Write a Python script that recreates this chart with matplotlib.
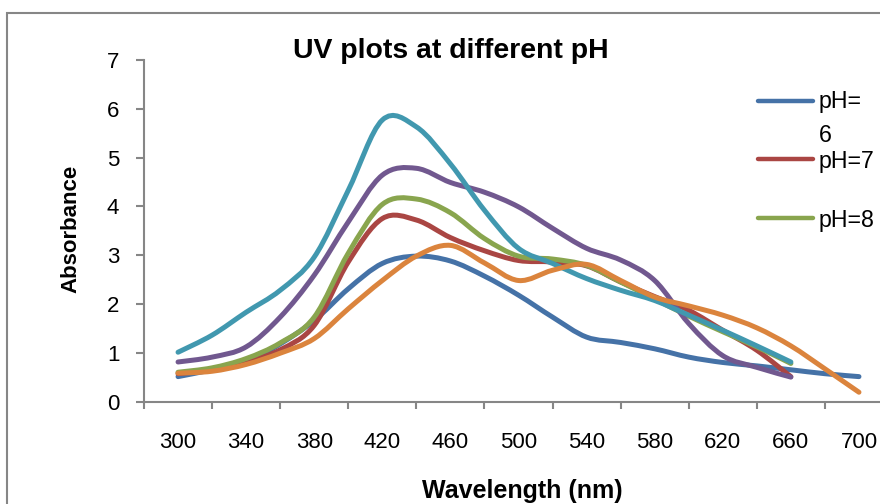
import numpy as np
import matplotlib.pyplot as plt
from matplotlib.path import Path
from matplotlib.patches import PathPatch, Rectangle
from matplotlib.lines import Line2D

# wavelength categories (nm)
wavelength = [300, 320, 340, 360, 380, 400, 420, 440, 460, 480, 500,
              520, 540, 560, 580, 600, 620, 640, 660, 680, 700]

# absorbance
ph6 = [0.51, 0.65, 0.81, 1.18, 1.66, 2.31, 2.83, 2.98, 2.88, 2.57, 2.18,
       1.73, 1.32, 1.21, 1.08, 0.91, 0.80, 0.73, 0.65, 0.57, 0.51]
ph7 = [0.57, 0.65, 0.81, 1.06, 1.56, 2.86, 3.75, 3.72, 3.36, 3.09, 2.89,
       2.86, 2.78, 2.45, 2.15, 1.87, 1.46, 1.05, 0.51]
ph8 = [0.60, 0.69, 0.88, 1.20, 1.73, 3.04, 4.04, 4.15, 3.87, 3.34, 2.98,
       2.92, 2.79, 2.45, 2.10, 1.75, 1.43, 1.12, 0.78]
ph9 = [0.81, 0.91, 1.12, 1.73, 2.59, 3.68, 4.64, 4.78, 4.49, 4.29, 3.99,
       3.55, 3.14, 2.90, 2.48, 1.60, 0.94, 0.70, 0.50]
ph10 = [1.01, 1.36, 1.83, 2.28, 2.96, 4.33, 5.77, 5.63, 4.87, 3.92, 3.14,
        2.83, 2.52, 2.28, 2.07, 1.77, 1.46, 1.14, 0.81]
ph11 = [0.58, 0.62, 0.76, 0.99, 1.29, 1.90, 2.48, 2.98, 3.20, 2.84, 2.48,
        2.69, 2.81, 2.48, 2.14, 1.96, 1.77, 1.51, 1.14, 0.67, 0.19]

series = [ph6, ph7, ph8, ph9, ph10, ph11]
labels = ['pH=\n6', 'pH=7', 'pH=8', 'pH=9', 'pH=10', 'pH=11']
colors = ['#4572A7', '#AA4643', '#89A54E', '#71588F', '#4198AF', '#DB843D']

font = ['Liberation Sans', 'DejaVu Sans']
grey = '#868686'


def smooth_path(x, y):
    # excel style smoothed line: catmull-rom converted to cubic bezier
    pts = np.column_stack([x, y]).astype(float)
    n = len(pts)
    verts = [pts[0]]
    codes = [Path.MOVETO]
    for i in range(n - 1):
        p0 = pts[max(i - 1, 0)]
        p1 = pts[i]
        p2 = pts[i + 1]
        p3 = pts[min(i + 2, n - 1)]
        verts += [p1 + (p2 - p0) / 6, p2 - (p3 - p1) / 6, p2]
        codes += [Path.CURVE4] * 3
    return Path(verts, codes)


W, H = 880, 504
fig = plt.figure(figsize=(W / 100, H / 100), dpi=100)

# chart border (cropped on the right and bottom)
fig.add_artist(Rectangle((7 / W, -0.1), 1.2, 1.1 - 13 / H, transform=fig.transFigure,
                         fill=False, edgecolor=grey, lw=1.5))

ax = fig.add_axes([144 / W, (H - 401.5) / H, (893 - 144) / W, (401.5 - 60) / H])
ax.patch.set_alpha(0)

for vals, c in zip(series, colors):
    x = wavelength[:len(vals)]
    ax.add_patch(PathPatch(smooth_path(x, vals), fill=False, edgecolor=c, lw=3.6,
                           capstyle='round', joinstyle='round'))

ax.set_xlim(280, 720)
ax.set_ylim(0, 7)

for s in ['top', 'right']:
    ax.spines[s].set_visible(False)
for s in ['left', 'bottom']:
    ax.spines[s].set_color(grey)
    ax.spines[s].set_linewidth(1.5)

ax.set_xticks(wavelength[::2])
ax.set_xticklabels([str(w) for w in wavelength[::2]], family=font, fontsize=16)
ax.set_xticks(np.arange(280, 721, 40), minor=True)
ax.tick_params(axis='x', which='major', length=0, pad=22)
ax.tick_params(axis='x', which='minor', length=4.8, width=1.5, color=grey, direction='out')

ax.set_yticks(range(0, 8))
ax.set_yticklabels([str(v) for v in range(0, 8)], family=font, fontsize=16)
ax.tick_params(axis='y', length=5.8, width=1.5, color=grey, pad=12)

fig.text(451 / W, 1 - 51 / H, 'UV plots at different pH', ha='center', va='center',
         fontsize=20.4, fontweight='bold', family=font)
fig.text(71 / W, 1 - 229 / H, 'Absorbance', rotation=90, ha='center', va='center',
         fontsize=16, fontweight='bold', family=font)
fig.text(522 / W, 1 - 498 / H, 'Wavelength (nm)', ha='center', va='baseline',
         fontsize=18, fontweight='bold', family=font)

# legend (only the first three entries fit in the original)
legend_y = [101, 159, 218]
for lab, c, ly in zip(labels[:3], colors[:3], legend_y):
    fig.add_artist(Line2D([758 / W, 813 / W], [1 - ly / H, 1 - ly / H], color=c, lw=3.2,
                          solid_capstyle='round', transform=fig.transFigure))
    # baseline alignment uses the last line of a wrapped label
    nlines = lab.count('\n')
    fig.text(819 / W, 1 - (ly + 9 + 32 * nlines) / H, lab, ha='left', va='baseline',
             fontsize=16.7, family=font, linespacing=1.6)

fig.savefig('out.png', dpi=100)
